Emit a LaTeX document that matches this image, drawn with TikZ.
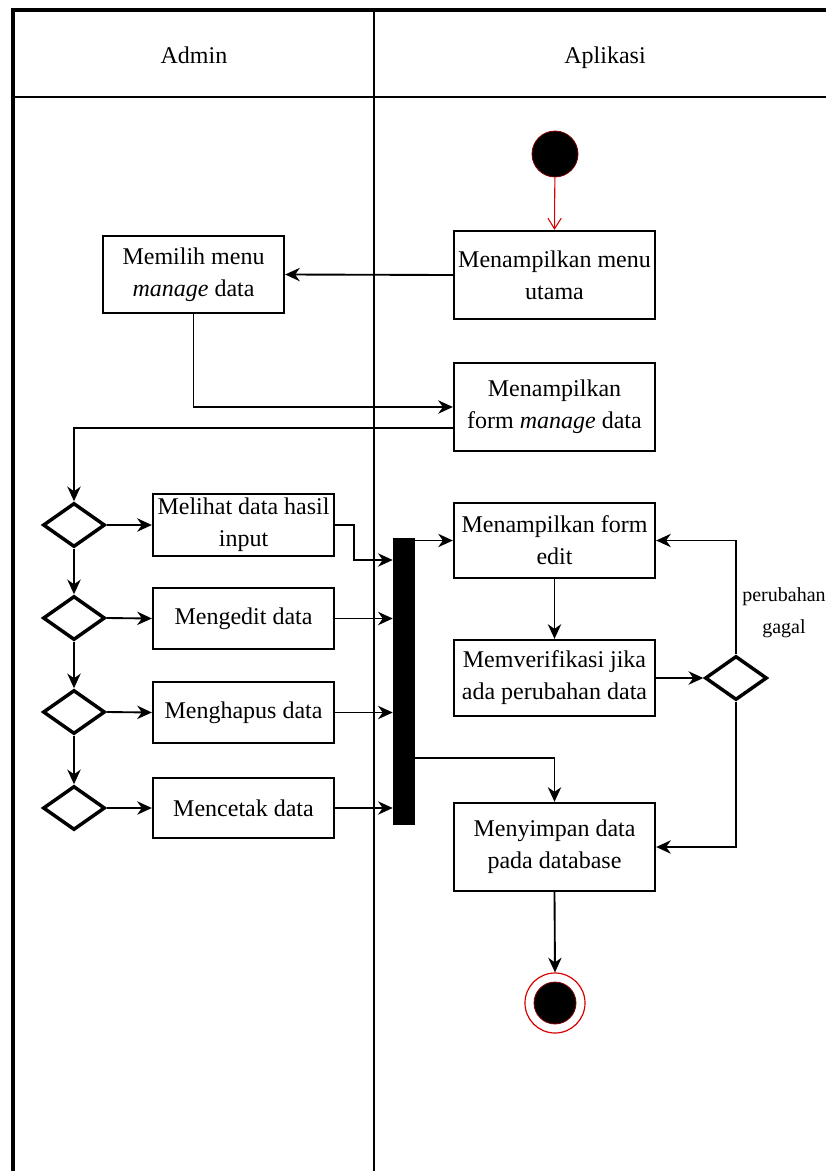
\documentclass[tikz,border=0pt]{standalone}
\usepackage{fontspec}
\setmainfont{Liberation Serif}
\usetikzlibrary{shapes.geometric,arrows.meta,calc}

\begin{document}
\begin{tikzpicture}[x=0.75pt,y=-0.75pt,
  every node/.style={font=\fontsize{18}{24}\selectfont},
  act/.style={draw,rectangle,line width=1.7pt,align=center,
    inner xsep=1.5pt,inner ysep=0pt},
  wide/.style={act,minimum width=150.75pt},
  narrow/.style={act,minimum width=135.75pt},
  choice/.style={draw,diamond,line width=2.6pt,inner sep=0pt,
    minimum width=46.5pt,minimum height=33pt},
  flow/.style={line width=1.4pt,-{Stealth[length=11pt,width=10pt,inset=3.5pt]}},
  startflow/.style={red!85!black,line width=0.8pt,-{Straight Barb[length=8pt,width=10pt]}},
  lane/.style={line width=1.3pt},
  frame/.style={line width=2.4pt},
  small/.style={font=\fontsize{15}{24}\selectfont,align=center}]

\useasboundingbox (0,0) rectangle (826,1171);

% swimlane frame and headers
\draw[frame] (13,1171) -- (13,10) -- (826,10);
\draw[line width=1.6pt] (13,97) -- (826,97);
\draw[lane] (374,10) -- (374,1171);
\node[anchor=base] (hadmin) at (194,63) {Admin};
\node[anchor=base] (happ) at (605,63) {Aplikasi};

% start and end states
\node[circle,fill=black,draw=red!50!black,line width=0.6pt,
  minimum size=34.5pt,inner sep=0pt] (start) at (555,154) {};
\node[circle,draw=red!85!black,line width=0.9pt,fill=white,
  minimum size=45pt,inner sep=0pt] (end) at (555,1003) {};
\node[circle,fill=black,draw=red!50!black,line width=0.6pt,
  minimum size=31.5pt,inner sep=0pt] (endcore) at (end.center) {};

% Aplikasi lane
\node[wide,minimum height=66pt] (main) at (554.5,275)
  {Menampilkan menu\\utama};
\node[wide,minimum height=66pt] (form) at (554.5,407)
  {Menampilkan\\form \textit{manage} data};
\node[wide,minimum height=56.25pt] (edit) at (554.5,540.5)
  {Menampilkan form\\edit};
\node[wide,minimum height=57pt] (verif) at (554.5,678)
  {Memverifikasi jika\\ada perubahan data};
\node[wide,minimum height=66pt] (save) at (554.5,847)
  {Menyimpan data\\pada database};
\node[choice] (dec) at (736,678) {};
\node[small] (lbl) at (784,613) {perubahan\\gagal};

% synchronisation bar
\node[fill=black,minimum width=16.5pt,minimum height=215.25pt,
  inner sep=0pt] (bar) at (404,681.5) {};

% Admin lane
\node[narrow,minimum height=57.75pt] (pilih) at (193.5,274.5)
  {Memilih menu\\\textit{manage} data};
\node[choice] (d1) at (74,525) {};
\node[choice] (d2) at (74,618) {};
\node[choice] (d3) at (74,712) {};
\node[choice] (d4) at (74,808) {};
\node[narrow,minimum height=46.5pt] (b1) at (243.5,525)
  {Melihat data hasil\\input};
\node[narrow,minimum height=45.75pt] (b2) at (243.5,618.5) {Mengedit data};
\node[narrow,minimum height=45.75pt] (b3) at (243.5,712.5) {Menghapus data};
\node[narrow,minimum height=45pt] (b4) at (243.5,808) {Mencetak data};

% junction points on the bar
\coordinate (j1) at (bar.west |- 0,560);
\coordinate (j2) at (bar.east |- 0,758);

% connectors
\draw[startflow] (start) -- (main.north);
\draw[flow] (main.west) -- (pilih.east);
\draw[flow] (pilih.south) |- (form.west);
\draw[flow] ($(form.west)+(0,21)$) -| (d1.north);
\draw[flow] (d1.south) -- (d2.north);
\draw[flow] (d2.south) -- (d3.north);
\draw[flow] (d3.south) -- (d4.north);
\draw[flow] (d1.east) -- (b1.west);
\draw[flow] (d2.east) -- (b2.west);
\draw[flow] (d3.east) -- (b3.west);
\draw[flow] (d4.east) -- (b4.west);
\draw[flow] (b1.east) -- ++(19,0) |- (j1);
\draw[flow] (b2.east) -- (b2.east -| bar.west);
\draw[flow] (b3.east) -- (b3.east -| bar.west);
\draw[flow] (b4.east) -- (b4.east -| bar.west);
\draw[flow] (bar.east |- edit.west) -- (edit.west);
\draw[flow] (j2) -| (save.north);
\draw[flow] (edit.south) -- (verif.north);
\draw[flow] (verif.east) -- (dec.west);
\draw[flow] (dec.north) |- (edit.east);
\draw[flow] (dec.south) |- (save.east);
\draw[flow] (save.south) -- (end.north);
\end{tikzpicture}
\end{document}
